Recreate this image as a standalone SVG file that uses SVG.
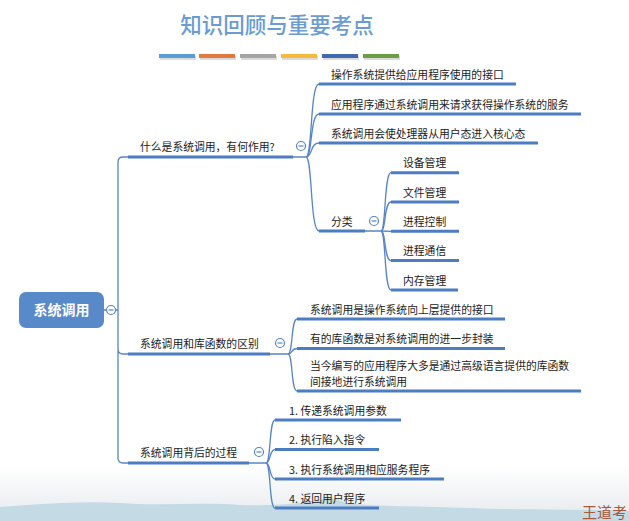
<svg xmlns="http://www.w3.org/2000/svg" width="629" height="521" viewBox="0 0 629 521">
<defs>
<linearGradient id="bg" x1="0" y1="0" x2="0" y2="1">
<stop offset="0" stop-color="#ffffff"/>
<stop offset="1" stop-color="#e6eaee"/>
</linearGradient>
<style>
.t{font-family:"Noto Sans CJK SC","Liberation Sans",sans-serif;font-size:10.8px;fill:#222222}
.ul{stroke:#4c7dc3;stroke-width:3;fill:none;stroke-linecap:butt}
.cn{stroke:#5585c8;stroke-width:1.3;fill:none}
.cc{fill:#ffffff;stroke:#5585c8;stroke-width:1.2}
.cm{stroke:#5585c8;stroke-width:1.2}
</style>
</defs>
<rect x="0" y="0" width="629" height="521" fill="#ffffff"/>
<rect x="0" y="465" width="629" height="56" fill="url(#bg)"/>
<path d="M0,507 C40,504 80,501 120,503 C160,506 200,502 240,505 C280,506 300,503 320,500 C330,497 338,498 345,503 C380,507 420,506 470,508 C520,510 570,509 629,511 L629,521 L0,521 Z" fill="#c4dbe5"/>

<text x="277" y="33" text-anchor="middle" font-family="Noto Sans CJK SC, sans-serif" font-size="21.5" font-weight="500" fill="#6b9bd3">知识回顾与重要考点</text>
<g id="bars">
<rect x="160" y="56" width="36" height="4" fill="#b8b8b8" opacity="0.5"/>
<rect x="159" y="54" width="36" height="4" fill="#5b9bd5"/>
<rect x="200" y="56" width="36" height="4" fill="#b8b8b8" opacity="0.5"/>
<rect x="199" y="54" width="36" height="4" fill="#e07a3e"/>
<rect x="241" y="56" width="36" height="4" fill="#b8b8b8" opacity="0.5"/>
<rect x="240" y="54" width="36" height="4" fill="#a5a5a5"/>
<rect x="282" y="56" width="36" height="4" fill="#b8b8b8" opacity="0.5"/>
<rect x="281" y="54" width="36" height="4" fill="#f5b93b"/>
<rect x="323" y="56" width="36" height="4" fill="#b8b8b8" opacity="0.5"/>
<rect x="322" y="54" width="36" height="4" fill="#4069b0"/>
<rect x="364" y="56" width="36" height="4" fill="#b8b8b8" opacity="0.5"/>
<rect x="363" y="54" width="36" height="4" fill="#6a9e45"/>
</g>

<g id="connectors">
<path class="cn" d="M104,310 H106.5 M115.5,310 H118"/>
<path class="cn" d="M128,157 H123 Q118,157 118,162 V458 Q118,463 123,463 H128 M118,349 Q118,354 123,354 H128"/>
<path class="cn" d="M293,157 H306 M270,354 H288 M249,463 H266 M365,231 H381"/>
<path class="cn" d="M306,157 C312.5,157 310,84 319,84"/>
<path class="cn" d="M306,157 C312.5,157 310,114 319,114"/>
<path class="cn" d="M306,157 C312.5,157 310,143 319,143"/>
<path class="cn" d="M306,157 C312.5,157 310,231 319,231"/>
<path class="cn" d="M381,231 C386,231 384,172.7 391,172.7"/>
<path class="cn" d="M381,231 C386,231 384,202 391,202"/>
<path class="cn" d="M381,231 L391,231.3"/>
<path class="cn" d="M381,231 C386,231 384,260.6 391,260.6"/>
<path class="cn" d="M381,231 C386,231 384,290 391,290"/>
<path class="cn" d="M288,354 C293,354 291,319 297,319"/>
<path class="cn" d="M288,354 C293,354 291,348.5 297,348.5"/>
<path class="cn" d="M288,354 C293,354 291,391 297,391"/>
<path class="cn" d="M266,463 C271,463 269,420 275,420"/>
<path class="cn" d="M266,463 C271,463 269,449.5 275,449.5"/>
<path class="cn" d="M266,463 C271,463 269,479 275,479"/>
<path class="cn" d="M266,463 C271,463 269,508 275,508"/>
</g>

<g id="root">
<rect x="19" y="292" width="85" height="36" rx="7" fill="#5889c8"/>
<text x="61.5" y="315" text-anchor="middle" font-family="Noto Sans CJK SC, sans-serif" font-size="14" font-weight="bold" fill="#ffffff">系统调用</text>
<circle class="cc" cx="111" cy="310" r="4.5"/><path class="cm" d="M108.5,310 H113.5"/>
</g>

<g id="b1">
<path class="ul" d="M128,157 H293"/>
<text class="t" x="140" y="151">什么是系统调用，有何作用?</text>
<circle class="cc" cx="301" cy="146" r="4.5"/><path class="cm" d="M298.5,146 H303.5"/>
</g>
<g id="b1c1"><path class="ul" d="M319,84 H516"/><text class="t" x="331" y="79">操作系统提供给应用程序使用的接口</text></g>
<g id="b1c2"><path class="ul" d="M319,114 H581"/><text class="t" x="331" y="108.5">应用程序通过系统调用来请求获得操作系统的服务</text></g>
<g id="b1c3"><path class="ul" d="M319,143 H538"/><text class="t" x="331" y="137.5">系统调用会使处理器从用户态进入核心态</text></g>
<g id="b1c4">
<path class="ul" d="M319,231 H365"/><text class="t" x="331" y="225.5">分类</text>
<circle class="cc" cx="374" cy="221" r="4.5"/><path class="cm" d="M371.5,221 H376.5"/>
</g>
<g id="k1"><path class="ul" d="M391,172.7 H459"/><text class="t" x="403" y="167">设备管理</text></g>
<g id="k2"><path class="ul" d="M391,202 H459"/><text class="t" x="403" y="196.5">文件管理</text></g>
<g id="k3"><path class="ul" d="M391,231.3 H459"/><text class="t" x="403" y="225.8">进程控制</text></g>
<g id="k4"><path class="ul" d="M391,260.6 H459"/><text class="t" x="403" y="255">进程通信</text></g>
<g id="k5"><path class="ul" d="M391,290 H458"/><text class="t" x="403" y="284.5">内存管理</text></g>

<g id="b2">
<path class="ul" d="M128,354 H270"/>
<text class="t" x="140" y="348">系统调用和库函数的区别</text>
<circle class="cc" cx="280" cy="343" r="4.5"/><path class="cm" d="M277.5,343 H282.5"/>
</g>
<g id="b2c1"><path class="ul" d="M297,319 H505"/><text class="t" x="310" y="313.5">系统调用是操作系统向上层提供的接口</text></g>
<g id="b2c2"><path class="ul" d="M297,348.5 H505"/><text class="t" x="310" y="343">有的库函数是对系统调用的进一步封装</text></g>
<g id="b2c3"><path class="ul" d="M297,391 H581"/>
<text class="t" x="310" y="370">当今编写的应用程序大多是通过高级语言提供的库函数</text>
<text class="t" x="310" y="385.5">间接地进行系统调用</text></g>

<g id="b3">
<path class="ul" d="M128,463 H249"/>
<text class="t" x="140" y="457">系统调用背后的过程</text>
<circle class="cc" cx="259" cy="452" r="4.5"/><path class="cm" d="M256.5,452 H261.5"/>
</g>
<g id="s1"><path class="ul" d="M275,420 H401"/><text class="t" x="289" y="414.5">1. 传递系统调用参数</text></g>
<g id="s2"><path class="ul" d="M275,449.5 H379"/><text class="t" x="289" y="444">2. 执行陷入指令</text></g>
<g id="s3"><path class="ul" d="M275,479 H444"/><text class="t" x="289" y="473.5">3. 执行系统调用相应服务程序</text></g>
<g id="s4"><path class="ul" d="M275,508 H379"/><text class="t" x="289" y="502.5">4. 返回用户程序</text></g>

<text x="582" y="518" font-family="Noto Sans CJK SC, sans-serif" font-size="15" fill="#a8573a">王道考</text>
</svg>
